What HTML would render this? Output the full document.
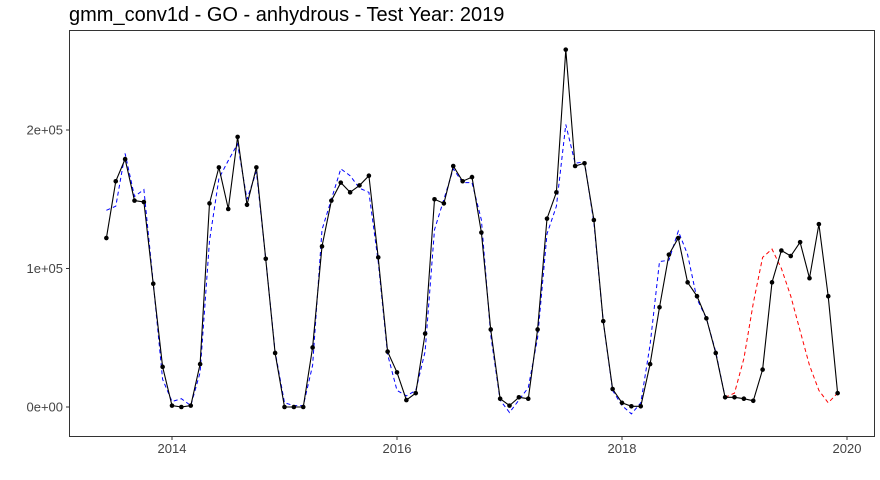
<!DOCTYPE html>
<html><head><meta charset="utf-8"><style>
body{margin:0;background:#fff;font-family:"Liberation Sans",sans-serif}
svg{display:block}
</style></head><body>
<svg id="chart" width="880" height="480" xmlns="http://www.w3.org/2000/svg">
<text x="69" y="21" font-size="20" fill="#000">gmm_conv1d - GO - anhydrous - Test Year: 2019</text>
<rect x="69.5" y="30.5" width="805" height="406" fill="#fff" stroke="#333" stroke-width="1"/>
<g id="axes"></g>
<g id="series"></g>
</svg>
<script>
const startYear = 2013, startMonth = 5; // June 2013 (0-based month)
const actual = [122,163,179,149,148,89,29,1,0,1,31,147,173,143,195,146,173,107,39,0,0,0,43,116,149,162,155,160,167,108,40,25,5,10,53,150,147,174,163,166,126,56,6,1,7,6,56,136,155,258,174,176,135,62,13,3,0.5,0.5,31,72,110,122,90,80,64,39,7,7,6,4.5,27,90,113,109,119,93,132,80,10];
const fitted = [142,145,183,152,157,90,20,4,6,1,25,120,165,178,190,150,170,107,40,3,1,1,30,128,150,172,167,158,155,105,38,12,8,12,40,128,150,172,162,162,135,52,5,-4,5,14,50,125,145,204,176,177,133,62,12,1,-5,3,45,105,106,127,110,78,64,40,7];
const forecastStartIndex = 66;
const forecast = [7,10,35,75,108,114,100,80,55,30,12,3,10];
const yTicks = [0,100000,200000];
const yTickLabels = ["0e+00","1e+05","2e+05"];
const xTicks = [2014,2016,2018,2020];

const NS="http://www.w3.org/2000/svg";
function xs(t){return 172 + (t-2014)*112.5;}
function ys(v){return 407 - v/100000*138.5;}
function tIdx(i){return startYear + (startMonth+i)/12;}
function mk(tag,attrs,parent){const e=document.createElementNS(NS,tag);for(const k in attrs)e.setAttribute(k,attrs[k]);parent.appendChild(e);return e;}
const axes=document.getElementById('axes'), series=document.getElementById('series');
yTicks.forEach((v,i)=>{
  const l=mk('line',{x1:66,x2:69,y1:ys(v),y2:ys(v),stroke:'#333'},axes);
  
  
  const t=mk('text',{x:63,y:ys(v)+4.5,'text-anchor':'end','font-size':13,fill:'#444'},axes);
  t.textContent=yTickLabels[i];
  
  
});
xTicks.forEach(yr=>{
  const l=mk('line',{x1:xs(yr),x2:xs(yr),y1:437,y2:440,stroke:'#333'},axes);
  
  
  const t=mk('text',{x:xs(yr),y:453,'text-anchor':'middle','font-size':13,fill:'#444'},axes);
  t.textContent=String(yr);
  
  
});
function pts(arr,off){return arr.map((v,i)=>xs(tIdx(i+off)).toFixed(1)+','+ys(v*1000).toFixed(1)).join(' ');}
const fl=mk('polyline',{points:pts(fitted,0),fill:'none',stroke:'#0000ff','stroke-width':1,'stroke-dasharray':'4,3'},series);


const rl=mk('polyline',{points:pts(forecast,forecastStartIndex),fill:'none',stroke:'#ff0000','stroke-width':1,'stroke-dasharray':'4,3'},series);


const al=mk('polyline',{points:pts(actual,0),fill:'none',stroke:'#000','stroke-width':1.1},series);


actual.forEach((v,i)=>{
  const c=mk('circle',{cx:xs(tIdx(i)),cy:ys(v*1000),r:2.3,fill:'#000'},series);
  
  
});
</script>
</body></html>
